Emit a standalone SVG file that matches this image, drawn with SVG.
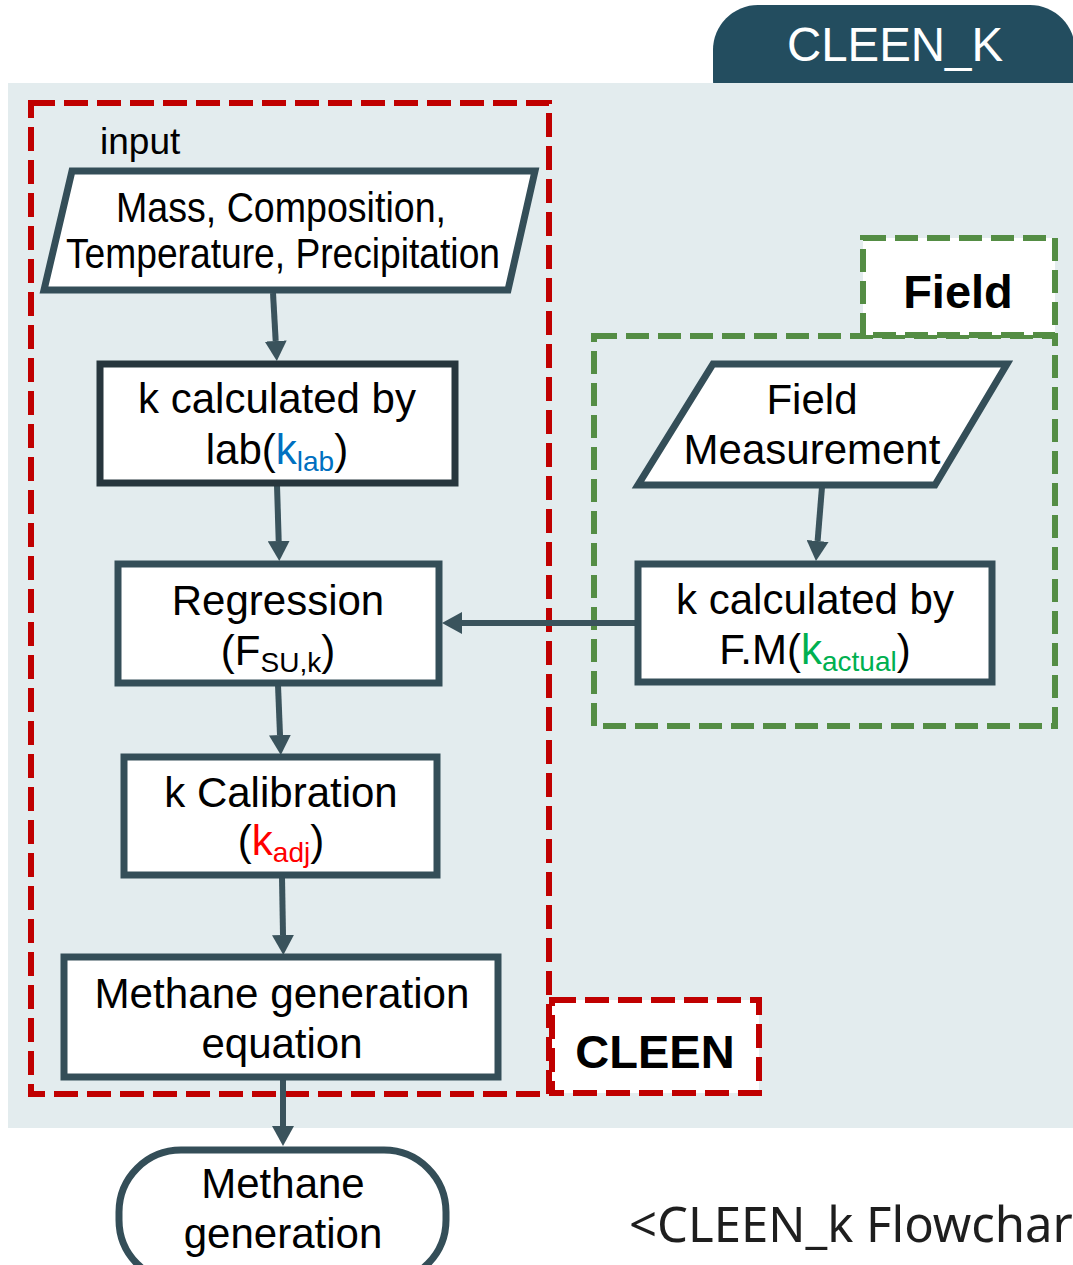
<svg xmlns="http://www.w3.org/2000/svg" width="1073" height="1265" viewBox="0 0 1073 1265">
<style>
.t{font-family:"Liberation Sans",Arial,sans-serif;font-size:42px;fill:#000;text-anchor:middle}
.box{fill:#fff;stroke:#344e58;stroke-width:7}
.red{fill:none;stroke:#c00000;stroke-width:6;stroke-dasharray:24 9}
.grn{fill:none;stroke:#548d44;stroke-width:6;stroke-dasharray:23 9}
.conn{stroke:#3a535c;stroke-width:6;fill:none;marker-end:url(#ah)}
.sub{font-size:28px}
</style>
<defs>
<marker id="ah" viewBox="0 -11 20 22" markerWidth="20" markerHeight="22" refX="0" refY="0" orient="auto" markerUnits="userSpaceOnUse">
<path d="M0,-11 L20,0 L0,11 z" fill="#3a535c"/>
</marker>
</defs>
<g id="tab">
<rect x="713" y="5" width="362" height="120" rx="45" fill="#234d5f"/>
</g>
<rect id="panel" x="8" y="83" width="1065" height="1045" fill="#e3ecee"/>
<text x="895" y="61" font-family="Liberation Sans,Arial,sans-serif" font-size="48" fill="#fff" text-anchor="middle" textLength="216" lengthAdjust="spacingAndGlyphs">CLEEN_K</text>

<g id="cleen-group">
<rect class="red" x="31" y="103" width="518" height="991"/>
</g>
<g id="cleen-label">
<rect x="552" y="1000" width="207" height="93" fill="#fff"/>
<rect class="red" x="552" y="1000" width="207" height="93"/>
<text x="655" y="1068" font-family="Liberation Sans,Arial,sans-serif" font-size="47" font-weight="bold" text-anchor="middle">CLEEN</text>
</g>
<g id="field-group">
<rect class="grn" x="594" y="336" width="461" height="390"/>
</g>
<g id="field-label">
<rect x="863" y="238" width="192" height="97" fill="#fff"/>
<rect class="grn" x="863" y="238" width="192" height="97"/>
<text x="958" y="308" font-family="Liberation Sans,Arial,sans-serif" font-size="47" font-weight="bold" text-anchor="middle">Field</text>
</g>

<text id="input-label" x="100" y="154" font-family="Liberation Sans,Arial,sans-serif" font-size="37">input</text>

<g id="connectors">
<path class="conn" d="M273,293 L275.7,341"/>
<path class="conn" d="M277,485 L278.7,541"/>
<path class="conn" d="M278,685 L280,735"/>
<path class="conn" d="M282,877 L283,935"/>
<path class="conn" d="M283,1077 L283,1126"/>
<path class="conn" d="M822,487 L817.6,541"/>
<path class="conn" d="M637,623 L462,623"/>
</g>

<g id="input">
<polygon class="box" points="72,171 535,171 508,290 44,290"/>
<text class="t" x="281" y="222" font-size="37" textLength="330" lengthAdjust="spacingAndGlyphs">Mass, Composition,</text>
<text class="t" x="283" y="268" font-size="37" textLength="434" lengthAdjust="spacingAndGlyphs">Temperature, Precipitation</text>
</g>

<g id="klab">
<rect class="box" x="100" y="364" width="355" height="119" style="stroke:#27363d"/>
<text class="t" x="277" y="413">k calculated by</text>
<text class="t" x="277" y="464">lab(<tspan fill="#0070c0">k</tspan><tspan class="sub" fill="#0070c0" dy="7">lab</tspan><tspan dy="-7">)</tspan></text>
</g>

<g id="regression">
<rect class="box" x="118" y="564" width="321" height="119"/>
<text class="t" x="278" y="615">Regression</text>
<text class="t" x="278" y="665">(F<tspan class="sub" dy="7">SU,k</tspan><tspan dy="-7">)</tspan></text>
</g>

<g id="kcal">
<rect class="box" x="124" y="757" width="313" height="118"/>
<text class="t" x="281" y="807">k Calibration</text>
<text class="t" x="281" y="855">(<tspan fill="#ff0000">k</tspan><tspan class="sub" fill="#ff0000" dy="7">adj</tspan><tspan dy="-7">)</tspan></text>
</g>

<g id="equation">
<rect class="box" x="64" y="957" width="434" height="120"/>
<text class="t" x="282" y="1008" textLength="375" lengthAdjust="spacingAndGlyphs">Methane generation</text>
<text class="t" x="282" y="1058">equation</text>
</g>

<g id="output">
<rect class="box" x="119" y="1150" width="327" height="132" rx="62"/>
<text class="t" x="283" y="1198">Methane</text>
<text class="t" x="283" y="1248">generation</text>
</g>

<g id="field-measure">
<polygon class="box" points="713,364 1007,364 935,485 638,485"/>
<text class="t" x="812" y="414">Field</text>
<text class="t" x="812" y="464">Measurement</text>
</g>

<g id="kactual">
<rect class="box" x="638" y="564" width="354" height="118"/>
<text class="t" x="815" y="614">k calculated by</text>
<text class="t" x="815" y="664">F.M(<tspan fill="#00b050">k</tspan><tspan class="sub" fill="#00b050" dy="7">actual</tspan><tspan dy="-7">)</tspan></text>
</g>

<text id="caption" x="629" y="1242" font-family="Noto Sans,Open Sans,sans-serif" font-size="49" fill="#1e1e1e">&lt;CLEEN_k Flowchart&gt;</text>
</svg>
